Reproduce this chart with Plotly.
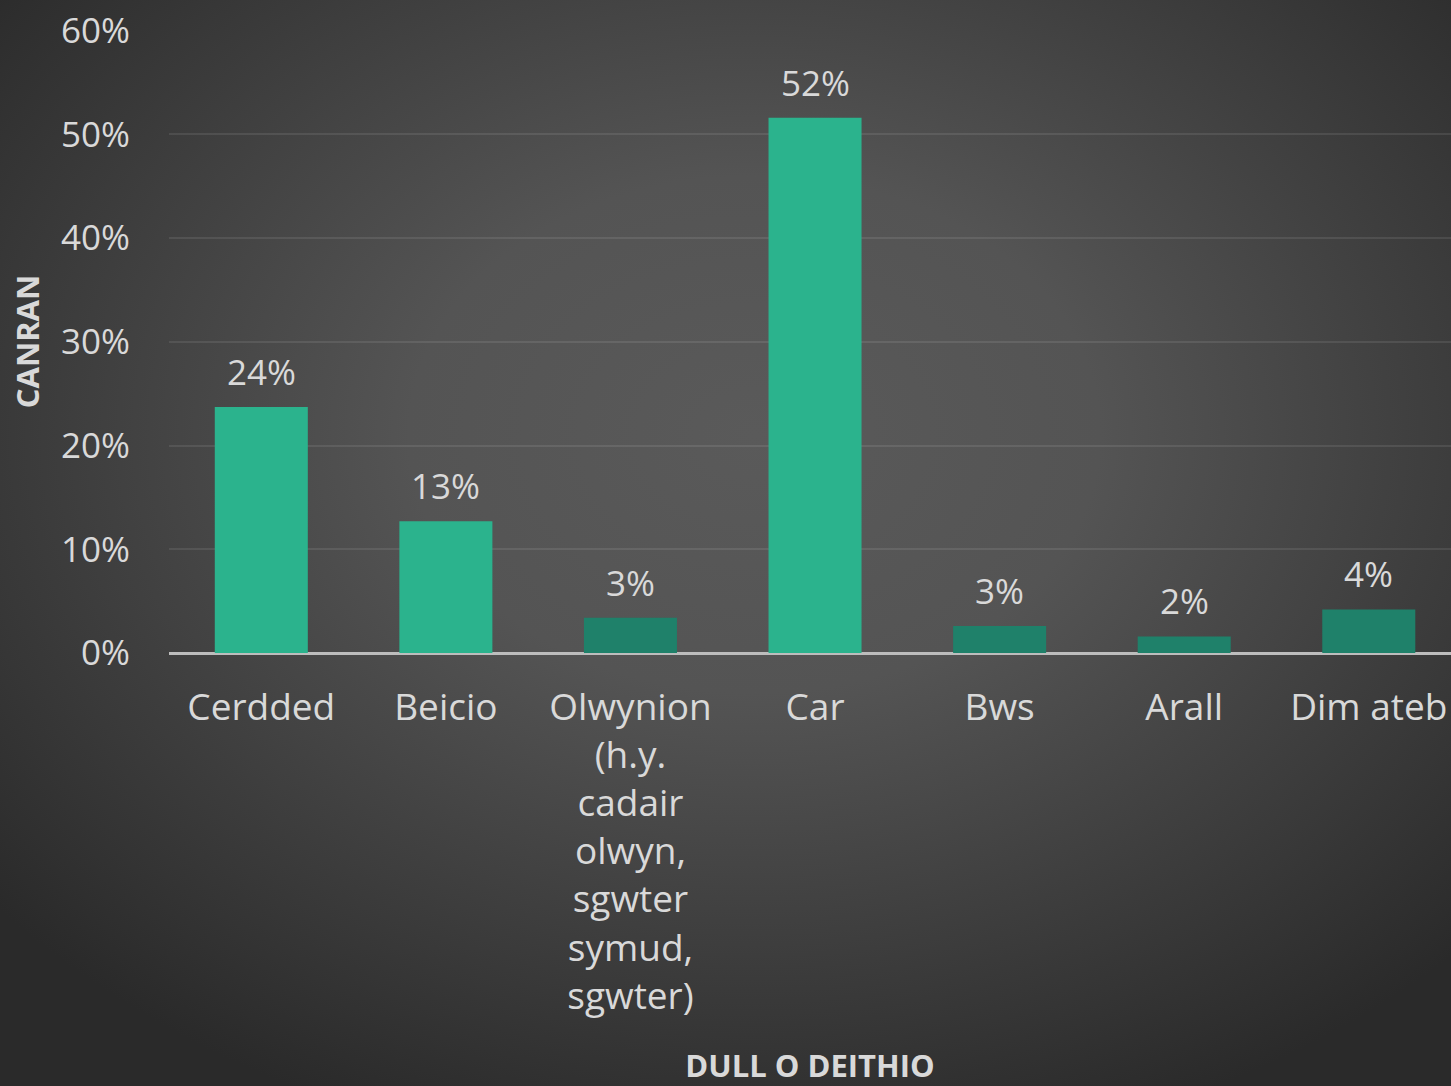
import base64
import plotly.graph_objects as go

# data
categories = [
    "Cerdded",
    "Beicio",
    "Olwynion<br>(h.y.<br>cadair<br>olwyn,<br>sgwter<br>symud,<br>sgwter)",
    "Car",
    "Bws",
    "Arall",
    "Dim ateb",
]
shares = [0.237, 0.127, 0.034, 0.516, 0.026, 0.016, 0.042]
labels = ["24%", "13%", "3%", "52%", "3%", "2%", "4%"]
highlight = [True, True, False, True, False, False, False]

y_ticks = [0, 0.1, 0.2, 0.3, 0.4, 0.5, 0.6]

TEXT = "#d9d9d9"
BRIGHT = "#2bb38d"
DARK = "#1f816a"
FONT = "Open Sans, Lato, sans-serif"

W, H = 1451, 1086
L, R, T, B = 169, 0, 30, 433
pw, ph = W - L - R, H - T - B

# radial background like the original slide
svg = (
    f'<svg xmlns="http://www.w3.org/2000/svg" width="{W}" height="{H}">'
    '<defs><radialGradient id="g" cx="0.52" cy="0.40" r="0.68">'
    '<stop offset="0" stop-color="#5a5a5a"/>'
    '<stop offset="0.35" stop-color="#545454"/>'
    '<stop offset="1" stop-color="#2a2a2a"/>'
    '</radialGradient></defs>'
    '<rect width="100%" height="100%" fill="url(#g)"/></svg>'
)
bg_src = "data:image/svg+xml;base64," + base64.b64encode(svg.encode()).decode()

fig = go.Figure(
    go.Bar(
        x=categories,
        y=shares,
        marker_color=[BRIGHT if h else DARK for h in highlight],
        marker_line_width=0,
        hoverinfo="skip",
    )
)

for c, v, t in zip(categories, shares, labels):
    fig.add_annotation(
        x=c, y=v, text=t, showarrow=False,
        yanchor="bottom", yshift=10,
        font=dict(family=FONT, size=35, color=TEXT),
    )

step = pw / 7.0
fig.update_layout(
    width=W,
    height=H,
    margin=dict(l=L, r=R, t=T, b=B, autoexpand=False),
    paper_bgcolor="#3a3a3a",
    plot_bgcolor="rgba(0,0,0,0)",
    font=dict(family=FONT, color=TEXT),
    bargap=0.496,
    showlegend=False,
    images=[dict(
        source=bg_src, xref="paper", yref="paper",
        x=-L / pw, y=1 + T / ph, sizex=W / pw, sizey=H / ph,
        xanchor="left", yanchor="top", sizing="stretch", layer="below",
    )],
    xaxis=dict(
        range=[-0.5, 6.5 - 10 / step],
        showgrid=False,
        tickfont=dict(size=37, color=TEXT),
        ticklabelstandoff=29,
        title=dict(text="<b>DULL O DEITHIO</b>", font=dict(size=31, color=TEXT), standoff=41),
        automargin=False,
    ),
    yaxis=dict(
        range=[0, 0.6005],
        tickvals=y_ticks,
        tickformat=".0%",
        tickfont=dict(size=35, color=TEXT),
        ticklabelstandoff=38,
        gridcolor="rgba(255,255,255,0.09)",
        gridwidth=2,
        zeroline=True,
        zerolinecolor="#bdbdbd",
        zerolinewidth=3,
        title=dict(text="<b>CANRAN</b>", font=dict(size=31, color=TEXT), standoff=12),
        automargin=False,
    ),
)

fig.write_html(
    "out.html",
    config={"displayModeBar": False},
    post_script="document.body.style.margin='0';",
)
